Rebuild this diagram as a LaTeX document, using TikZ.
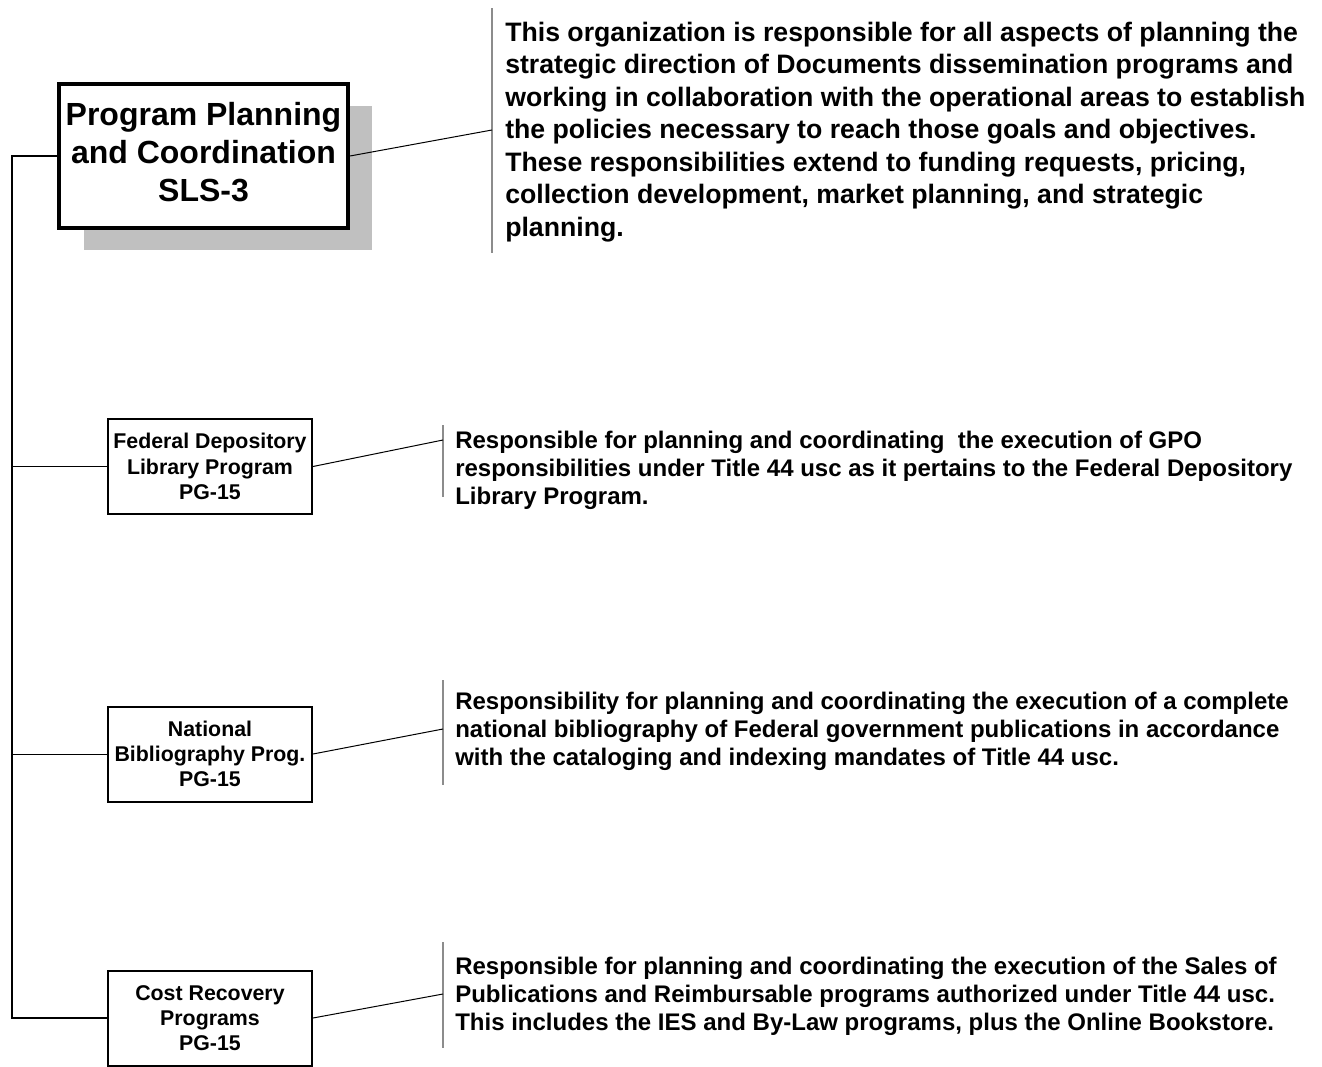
\documentclass[tikz,border=0pt]{standalone}
\usepackage{fontspec}
\setmainfont{Liberation Sans}
\usepackage{tikz}
\usepackage{xcolor}
\usetikzlibrary{positioning}

\definecolor{shadowgray}{HTML}{C0C0C0}
\definecolor{rulegray}{HTML}{8C8C8C}

\begin{document}
\begin{tikzpicture}[x=0.75pt, y=-0.75pt,
  mainbox/.style={draw, fill=white, line width=3pt, align=center, inner sep=0pt,
    minimum width=216.75pt, minimum height=108pt,
    font=\bfseries\fontsize{24}{28.5}\selectfont},
  unitbox/.style={draw, fill=white, line width=1.5pt, align=center, inner sep=0pt,
    minimum width=153pt, minimum height=71.25pt,
    font=\bfseries\fontsize{16}{19}\selectfont},
  topdesc/.style={anchor=west, align=left, inner sep=0pt,
    font=\bfseries\fontsize{20}{24.4}\selectfont},
  desc/.style={anchor=west, align=left, inner sep=0pt,
    font=\bfseries\fontsize{18}{21}\selectfont},
  trunk/.style={line width=1pt},
  link/.style={line width=0.75pt},
  divider/.style={line width=1pt, rulegray}]

\useasboundingbox (0,0) rectangle (1322,1067);

% boxes
\fill[shadowgray] (84,106) rectangle (372,250);
\node[mainbox] (ppc) at (203.5,156) {\raisebox{2pt}{\begin{tabular}{@{}c@{}}Program Planning\\and Coordination\\SLS-3\end{tabular}}};

\node[unitbox] (fdlp) at (210,466.5) {Federal Depository\\Library Program\\PG-15};
\node[unitbox] (nbp) at (210,754) {National\\Bibliography Prog.\\PG-15};
\node[unitbox] (crp) at (210,1018) {Cost Recovery\\Programs\\PG-15};

% trunk
\coordinate (t0) at (12,156);
\coordinate (t3) at (12,1018);
\draw[trunk] (ppc.west) -- (t0) -- (t3) -- (crp.west);
\draw[link] (12,466.5) -- (fdlp.west);
\draw[link] (12,754) -- (nbp.west);

% descriptions
\coordinate (d0top) at (492,8);
\coordinate (d0bot) at (492,253);
\coordinate (d0) at (492,130);
\draw[divider] (d0top) -- (d0bot);
\draw[link] (ppc.east) -- (d0);
\node[topdesc] (ppctext) at (505,132) {This organization is responsible for all aspects of planning the\\
strategic direction of Documents dissemination programs and\\
working in collaboration with the operational areas to establish\\
the policies necessary to reach those goals and objectives.\\
These responsibilities extend to funding requests, pricing,\\
collection development, market planning, and strategic\\
planning.};

\coordinate (d1top) at (443,425);
\coordinate (d1bot) at (443,497);
\coordinate (d1) at (443,440);
\draw[divider] (d1top) -- (d1bot);
\draw[link] (fdlp.east) -- (d1);
\node[desc] (fdlptext) at (455,470) {Responsible for planning and coordinating \ the execution of GPO\\
responsibilities under Title 44 usc as it pertains to the Federal Depository\\
Library Program.};

\coordinate (d2top) at (443,680);
\coordinate (d2bot) at (443,785);
\coordinate (d2) at (443,729);
\draw[divider] (d2top) -- (d2bot);
\draw[link] (nbp.east) -- (d2);
\node[desc] (nbptext) at (455,731.5) {Responsibility for planning and coordinating the execution of a complete\\
national bibliography of Federal government publications in accordance\\
with the cataloging and indexing mandates of Title 44 usc.};

\coordinate (d3top) at (443,942);
\coordinate (d3bot) at (443,1048);
\coordinate (d3) at (443,994);
\draw[divider] (d3top) -- (d3bot);
\draw[link] (crp.east) -- (d3);
\node[desc] (crptext) at (455,996.5) {Responsible for planning and coordinating the execution of the Sales of\\
Publications and Reimbursable programs authorized under Title 44 usc.\\
This includes the IES and By-Law programs, plus the Online Bookstore.};
\end{tikzpicture}
\end{document}
